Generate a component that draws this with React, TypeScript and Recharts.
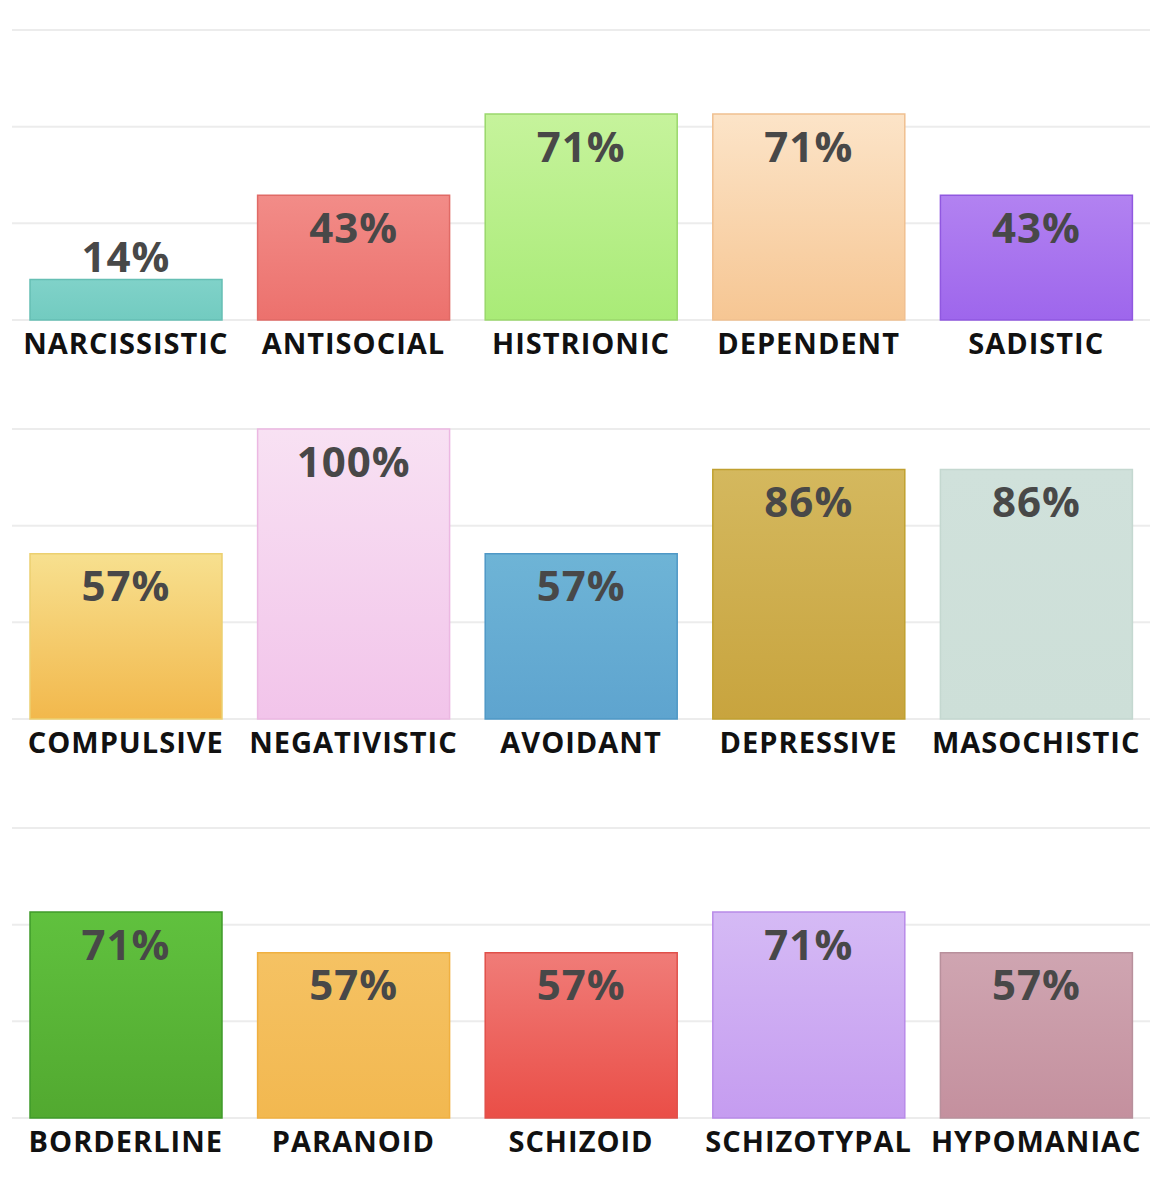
import React from "react";
import { BarChart, Bar, XAxis, YAxis, CartesianGrid, Cell, LabelList } from "recharts";

const row1Labels = ["NARCISSISTIC", "ANTISOCIAL", "HISTRIONIC", "DEPENDENT", "SADISTIC"];
const row1Values = [14, 43, 71, 71, 43];
const row1Top = ["#80d2c9", "#f28c88", "#c6f39c", "#fce4c8", "#b282f1"];
const row1Bottom = ["#72cbc0", "#ec716d", "#a9eb77", "#f6c693", "#9e66ec"];
const row1Edge = ["#66bfb4", "#e06a66", "#9ad86c", "#f0c090", "#9058e0"];

const row2Labels = ["COMPULSIVE", "NEGATIVISTIC", "AVOIDANT", "DEPRESSIVE", "MASOCHISTIC"];
const row2Values = [57, 100, 57, 86, 86];
const row2Top = ["#f7e08f", "#f8e1f3", "#6eb4d6", "#d4b85e", "#d0e1db"];
const row2Bottom = ["#f2b84c", "#f2c4ea", "#5ea4cf", "#c8a43e", "#cddfd8"];
const row2Edge = ["#ecd070", "#ecb8e2", "#4f98c6", "#c0a030", "#c4d8d0"];

const row3Labels = ["BORDERLINE", "PARANOID", "SCHIZOID", "SCHIZOTYPAL", "HYPOMANIAC"];
const row3Values = [71, 57, 57, 71, 57];
const row3Top = ["#60c13e", "#f5c263", "#f07c78", "#d5baf5", "#cfa5b1"];
const row3Bottom = ["#52a930", "#f2b850", "#ea4e47", "#c59cf0", "#c4909e"];
const row3Edge = ["#3f9a2a", "#f0b040", "#e0504a", "#b88ae8", "#b8909c"];

const gridTicks = [0, 100 / 3, 200 / 3, 100];

const FONT = "'Open Sans', 'Noto Sans', sans-serif";

function ValueLabel(props: any) {
  const { x, y, width, height, value } = props;
  const cx = x + width / 2;
  const above = height < 60;
  return (
    <text
      x={cx}
      y={above ? y - 24 : y + 31}
      textAnchor="middle"
      dominantBaseline="central"
      fontFamily={FONT}
      fontWeight={700}
      fontSize={42}
      letterSpacing={1}
      fill="#484848"
    >
      {`${value}%`}
    </text>
  );
}

function CategoryTick(props: any) {
  const { x, y, payload } = props;
  return (
    <text
      x={x}
      y={y}
      dy={22}
      textAnchor="middle"
      dominantBaseline="central"
      fontFamily={FONT}
      fontWeight={700}
      fontSize={29}
      letterSpacing={1}
      fill="#111111"
    >
      {payload.value}
    </text>
  );
}

function BarPanel({
  id,
  labels,
  values,
  top,
  bottom,
  edge,
}: {
  id: string;
  labels: string[];
  values: number[];
  top: string[];
  bottom: string[];
  edge: string[];
}) {
  const data = labels.map((name, i) => ({ name, value: values[i] }));
  return (
    <BarChart width={1151} height={399} data={data} margin={{ top: 22, right: 9, bottom: 57, left: 4 }}>
      <defs>
        {top.map((c, i) => (
          <linearGradient key={i} id={`${id}-g${i}`} x1="0" y1="0" x2="0" y2="1">
            <stop offset="0%" stopColor={c} />
            <stop offset="100%" stopColor={bottom[i]} />
          </linearGradient>
        ))}
      </defs>
      <CartesianGrid vertical={false} stroke="#ececec" strokeWidth={2} />
      <XAxis
        dataKey="name"
        height={30}
        axisLine={false}
        tickLine={false}
        tickSize={0}
        tickMargin={0}
        interval={0}
        tick={<CategoryTick />}
      />
      <YAxis hide domain={[0, 100]} ticks={gridTicks} />
      <Bar dataKey="value" barSize={192} isAnimationActive={false}>
        {data.map((_, i) => (
          <Cell key={i} fill={`url(#${id}-g${i})`} stroke={edge[i]} strokeWidth={1.5} />
        ))}
        <LabelList dataKey="value" content={<ValueLabel />} />
      </Bar>
    </BarChart>
  );
}

export default function App() {
  return (
    <div style={{ width: 1151, background: "#ffffff" }}>
      <BarPanel id="r1" labels={row1Labels} values={row1Values} top={row1Top} bottom={row1Bottom} edge={row1Edge} />
      <BarPanel id="r2" labels={row2Labels} values={row2Values} top={row2Top} bottom={row2Bottom} edge={row2Edge} />
      <BarPanel id="r3" labels={row3Labels} values={row3Values} top={row3Top} bottom={row3Bottom} edge={row3Edge} />
    </div>
  );
}
